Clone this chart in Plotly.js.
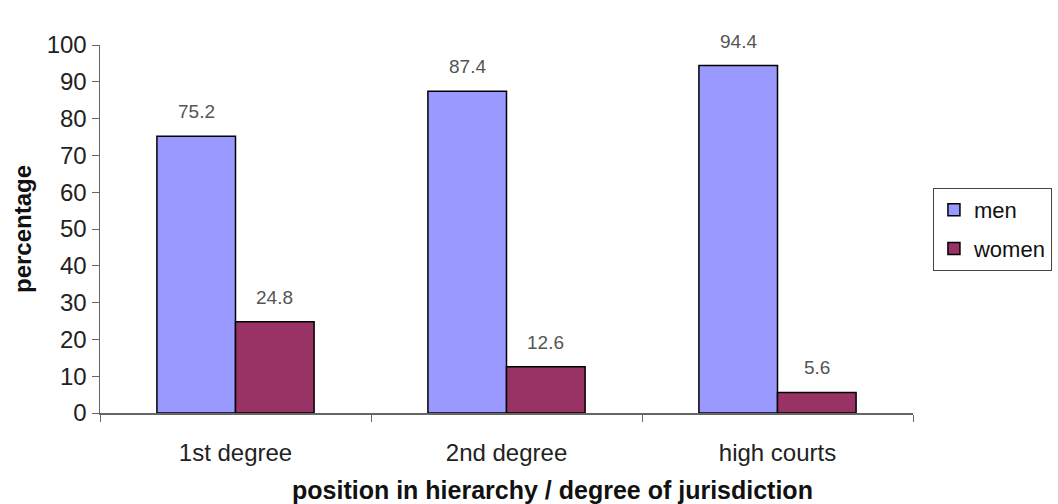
<!DOCTYPE html>
<html><head><meta charset="utf-8">
<script src="https://cdn.plot.ly/plotly-3.0.1.min.js"></script>
<style>html,body{margin:0;padding:0;background:#fff}</style>
</head><body>
<div id="chart" style="width:1058px;height:504px"></div>
<script>
const categories = ["1st degree", "2nd degree", "high courts"];
const menValues = [75.2, 87.4, 94.4];
const womenValues = [24.8, 12.6, 5.6];
const yTicks = [0, 10, 20, 30, 40, 50, 60, 70, 80, 90, 100];

const font = "Liberation Sans, Arial, sans-serif";
const labelFont = {family: font, size: 19, color: "#555"};

const traces = [
  {type: "bar", name: "men", x: categories, y: menValues, legendgroup: "a",
   marker: {color: "#9999FF", line: {color: "#000", width: 1.5}}},
  {type: "bar", name: "women", x: categories, y: womenValues, legendgroup: "b",
   marker: {color: "#993366", line: {color: "#000", width: 1.5}}}
];

const annotations = [];
categories.forEach((c, i) => {
  annotations.push({x: c, y: menValues[i], xref: "x", yref: "y", text: menValues[i].toFixed(1),
    showarrow: false, xshift: -39, yshift: 12, yanchor: "bottom", font: labelFont});
  annotations.push({x: c, y: womenValues[i], xref: "x", yref: "y", text: womenValues[i].toFixed(1),
    showarrow: false, xshift: 39, yshift: 12, yanchor: "bottom", font: labelFont});
});
annotations.push({x: 0.556, y: -0.21, xref: "paper", yref: "paper", showarrow: false,
  text: "position in hierarchy / degree of jurisdiction", xanchor: "center", yanchor: "middle",
  font: {size: 25, family: font, color: "#111", weight: "bold"}});

const layout = {
  width: 1058, height: 504,
  margin: {l: 100, r: 145, t: 45, b: 91},
  paper_bgcolor: "#fff", plot_bgcolor: "#fff",
  barmode: "group", bargap: 0.42, bargroupgap: 0,
  font: {family: font, color: "#222"},
  showlegend: true,
  legend: {xref: "container", yref: "container", x: 0.8818, xanchor: "left", y: 0.5446, yanchor: "middle",
           traceorder: "grouped",
           bordercolor: "#444", borderwidth: 1, font: {size: 22, family: font, color: "#111"},
           itemwidth: 30, tracegroupgap: 7},
  annotations: annotations,
  xaxis: {type: "category", tickson: "boundaries", ticks: "outside", ticklen: 7,
          tickcolor: "#666", showline: true, linecolor: "#666", linewidth: 1.5,
          showgrid: false, tickfont: {size: 24, family: font, color: "#222"},
          ticklabelstandoff: 18},
  yaxis: {range: [0, 100], tickvals: yTicks, ticks: "outside", ticklen: 7,
          tickcolor: "#666", showline: true, linecolor: "#666", linewidth: 1.5,
          showgrid: false, zeroline: false, tickfont: {size: 24, family: font, color: "#222"},
          title: {text: "percentage", font: {size: 24, family: font, color: "#111", weight: "bold"}, standoff: 8}}
};

Plotly.newPlot("chart", traces, layout, {displayModeBar: false, staticPlot: true});
</script>
</body></html>
